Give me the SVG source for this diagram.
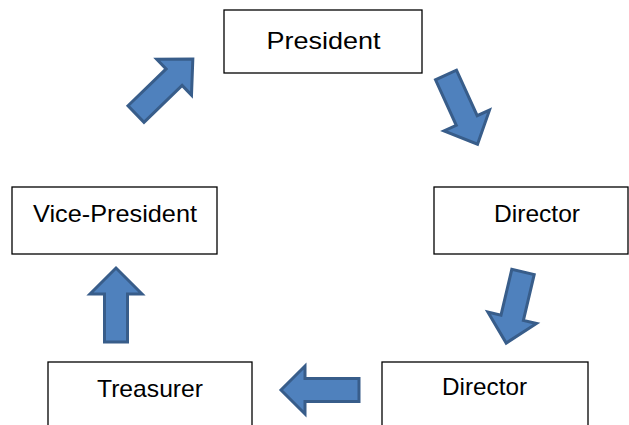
<svg xmlns="http://www.w3.org/2000/svg" width="629" height="425" viewBox="0 0 629 425">
<style>
.box{fill:#fff;stroke:#000;stroke-width:1.3}
.lbl{font-family:"Liberation Sans",Arial,sans-serif;font-size:24px;fill:#000;text-anchor:middle}
.arr{fill:#4F81BD;stroke:#385D8A;stroke-width:3;stroke-linejoin:miter}
</style>
<rect width="629" height="425" fill="#fff"/>
<g id="connectors">
<path class="arr" transform="translate(136,114) rotate(-44)" d="M0,-11.5 H53 V-25 L79,0 L53,25 V11.5 H0 Z"/>
<path class="arr" transform="translate(446,75) rotate(65.5)" d="M0,-11.5 H50 V-25 L76,0 L50,25 V11.5 H0 Z"/>
<path class="arr" transform="translate(523,272) rotate(103.3)" d="M0,-11.5 H47 V-25 L73,0 L47,25 V11.5 H0 Z"/>
<path class="arr" transform="translate(359,390) rotate(180)" d="M0,-11.5 H54 V-24 L78,0 L54,24 V11.5 H0 Z"/>
<path class="arr" transform="translate(116,342) rotate(-90)" d="M0,-11.5 H48 V-26 L74,0 L48,26 V11.5 H0 Z"/>
</g>
<g id="president">
<rect class="box" x="224" y="10" width="198" height="63"/>
<text class="lbl" x="323.5" y="49" textLength="114" lengthAdjust="spacingAndGlyphs">President</text>
</g>
<g id="director1">
<rect class="box" x="434" y="187" width="194" height="67"/>
<text class="lbl" x="537" y="222" textLength="86" lengthAdjust="spacingAndGlyphs">Director</text>
</g>
<g id="director2">
<rect class="box" x="382" y="362" width="206" height="70"/>
<text class="lbl" x="484.5" y="395" textLength="85" lengthAdjust="spacingAndGlyphs">Director</text>
</g>
<g id="treasurer">
<rect class="box" x="48" y="362" width="204" height="70"/>
<text class="lbl" x="150" y="397" textLength="106" lengthAdjust="spacingAndGlyphs">Treasurer</text>
</g>
<g id="vice-president">
<rect class="box" x="12" y="187" width="205" height="67"/>
<text class="lbl" x="115" y="222" textLength="164" lengthAdjust="spacingAndGlyphs">Vice-President</text>
</g>
</svg>
